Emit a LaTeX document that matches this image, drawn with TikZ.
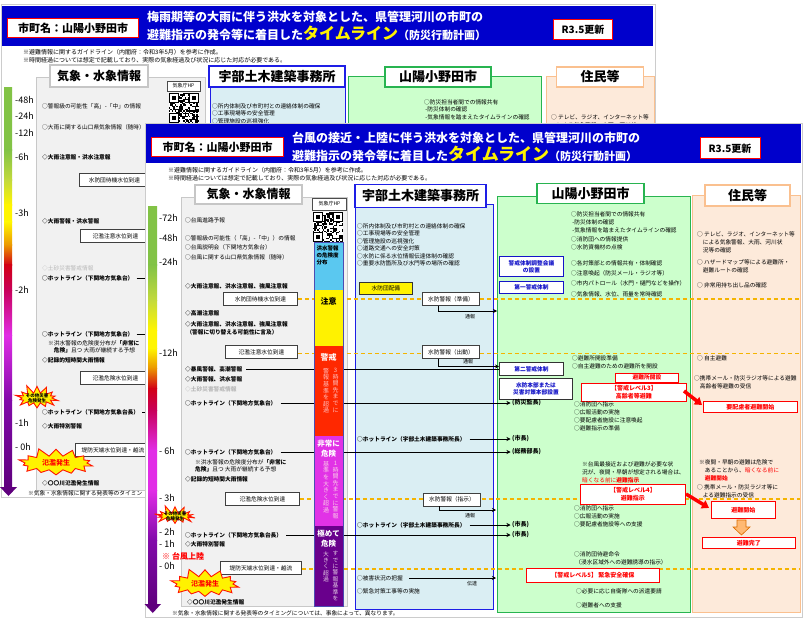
\documentclass[tikz,border=0pt]{standalone}
\usepackage{fontspec}
\setmainfont{Noto Sans CJK JP}
\usetikzlibrary{shapes.symbols,arrows.meta}
\XeTeXlinebreaklocale "ja"
\definecolor{hdrblue}{RGB}{0,0,204}
\definecolor{colgray}{RGB}{241,241,241}
\definecolor{colgrayb}{RGB}{200,200,200}
\definecolor{ubefill}{RGB}{218,238,243}
\definecolor{ubeb}{RGB}{30,30,230}
\definecolor{cityfill}{RGB}{204,255,204}
\definecolor{cityb}{RGB}{40,180,80}
\definecolor{resfill}{RGB}{253,234,218}
\definecolor{resb}{RGB}{250,192,143}
\definecolor{dashor}{RGB}{245,180,0}
\definecolor{barblue}{RGB}{90,200,240}
\definecolor{barred}{RGB}{255,40,0}
\definecolor{barmag}{RGB}{225,50,230}
\definecolor{barpur}{RGB}{105,0,140}
\definecolor{gA}{RGB}{130,195,70}
\definecolor{gB}{RGB}{195,218,60}
\definecolor{gY}{RGB}{255,245,0}
\definecolor{gO}{RGB}{235,150,0}
\definecolor{gR}{RGB}{210,0,20}
\definecolor{gC}{RGB}{200,0,90}
\definecolor{gM}{RGB}{225,45,230}
\definecolor{gP}{RGB}{130,10,170}
\definecolor{gD}{RGB}{95,0,125}
\definecolor{blt}{RGB}{20,20,200}
\newcommand\fsz[2]{\fontsize{#1}{#2}\selectfont}
\newcommand\gseg[6]{\shade[top color=#5,bottom color=#6] (#1,#3) rectangle (#2,#4);}
\newcommand\myqr[2]{%
 \fill[white] (#1,#2) rectangle ++(30,30);
 \foreach \i in {0,...,20}{\foreach \j in {0,...,20}{%
   \pgfmathsetmacro\rr{rnd}%
   \ifdim\rr pt<0.5pt \fill[black] ({#1+\i*1.43},{#2+\j*1.43}) rectangle ++(1.43,1.43);\fi}}
 \foreach \a/\b in {0/0,20/0,0/20}{%
   \fill[black] ({#1+\a},{#2+\b}) rectangle ++(10,10);
   \fill[white] ({#1+\a+1.43},{#2+\b+1.43}) rectangle ++(7.14,7.14);
   \fill[black] ({#1+\a+2.86},{#2+\b+2.86}) rectangle ++(4.28,4.28);}}
\tikzset{
  every node/.style={inner sep=0pt},
  tx/.style={anchor=west, font=\fsz{5.7}{7.6}},
  txb/.style={anchor=west, font=\bfseries\fsz{5.7}{7.6}},
  sm/.style={anchor=north west, align=left},
  nt/.style={anchor=west, font=\fsz{6}{8}},
  tlab/.style={anchor=west, font=\fsz{9}{10}},
  hdr/.style={draw, fill=white, line width=1.6pt, font=\bfseries\fsz{13}{15}, minimum height=20pt},
  wbox/.style={draw=black!75, fill=white, line width=0.9pt, font=\fsz{5.7}{7}, minimum height=13pt},
  rbox/.style={draw=red, fill=white, line width=0.9pt, text=red, font=\bfseries\fsz{6}{7.6}, align=center},
  bluebox/.style={draw=blt, fill=white, line width=0.9pt, text=blt, font=\bfseries\fsz{5.7}{7}, align=center},
  dsh/.style={draw=dashor, dash pattern=on 4pt off 3pt, line width=1.2pt},
  conn/.style={line width=0.9pt},
  arr/.style={line width=0.9pt, -{Stealth[length=4pt,width=4pt]}},
  redarr/.style={red, line width=3.5pt, -{Triangle[length=7pt,width=9pt]}},
  burst/.style={starburst, fill=yellow, draw=red!85!orange, line width=0.9pt, starburst points=14, starburst point height=9pt, random starburst=11},
  vt/.style={anchor=north, align=center, font=\fsz{6}{6.6}},
  ttl/.style={anchor=west, text=white, font=\bfseries\fsz{12}{14}},
  cbox/.style={draw=red, fill=white, line width=1pt, font=\bfseries\fsz{11}{13}},
  lab/.style={anchor=west, font=\bfseries\fsz{6}{7}},
}
\begin{document}
\begin{tikzpicture}[x=1pt,y=-1pt]
\pgfmathsetseed{7}
\useasboundingbox (0,0) rectangle (808,620);
\fill[white] (0,0) rectangle (808,620);
% ================= BACK DOCUMENT =================
\draw[gray!40, fill=white] (1,4) rectangle (655,497);
\fill[hdrblue] (2,6) rectangle (653,46);
\node[cbox, minimum width=131pt, minimum height=19pt, anchor=north west] (bname) at (7,18) {市町名：山陽小野田市};
\node[ttl] (bt1) at (147,17) {梅雨期等の大雨に伴う洪水を対象とした、県管理河川の市町の};
\node[ttl] (bt2) at (147,33) {避難指示の発令等に着目した{\color{yellow}\fsz{16}{16}タイムライン}{\fsz{11}{12}（防災行動計画）}};
\node[cbox, font=\bfseries\fsz{10}{12}, minimum width=59pt, minimum height=20pt] (brv) at (583,30) {R3.5更新};
\node[nt] (bn1) at (23,52) {※避難情報に関するガイドライン（内閣府：令和3年5月）を参考に作成。};
\node[nt] (bn2) at (23,60) {※時間経過については想定で記載しており、実際の気象経過及び状況に応じた対応が必要である。};
% columns
\draw[colgrayb, fill=colgray] (36,77) rectangle (205,490);
\draw[ubeb, fill=ubefill, line width=1pt] (210,86) rectangle (345,495);
\draw[cityb, fill=cityfill, line width=1pt] (348,77) rectangle (541,495);
\draw[resb, fill=resfill, line width=1pt] (546,77) rectangle (654,495);
\node[hdr, draw=gray!45, line width=1.2pt, font=\bfseries\fsz{12}{14}, minimum width=98pt, minimum height=22pt] (bh1) at (99,76) {気象・水象情報};
\node[hdr, draw=ubeb, minimum width=136pt, minimum height=21pt] (bh2) at (277,76.5) {宇部土木建築事務所};
\node[hdr, draw=cityb, minimum width=106pt] (bh3) at (438,77) {山陽小野田市};
\node[hdr, draw=resb, minimum width=87pt] (bh4) at (600,77) {住民等};
\node[draw=black!70, fill=white, line width=0.8pt, font=\fsz{5}{6}, minimum width=33pt, minimum height=10pt] (bhp) at (183.5,86) {気象庁HP};
\myqr{169}{93}
% back gradient bar
\gseg{4}{12}{88}{150.5}{gA}{gA}
\gseg{4}{12}{150}{180.5}{gA}{gB}
\gseg{4}{12}{180}{205.5}{gB}{gY}
\gseg{4}{12}{205}{222.5}{gY}{gY}
\gseg{4}{12}{222}{245.5}{gY}{gO}
\gseg{4}{12}{245}{265.5}{gO}{gR}
\gseg{4}{12}{265}{290.5}{gR}{gC}
\gseg{4}{12}{290}{335.5}{gC}{gM}
\gseg{4}{12}{335}{400.5}{gM}{gP}
\gseg{4}{12}{400}{488}{gP}{gD}
\fill[gD] (0,487) -- (17,487) -- (8.5,496) -- cycle;
\node[tlab] (bl1) at (15,100) {-48h};
\node[tlab] (bl2) at (15,116) {-24h};
\node[tlab] (bl3) at (15,133) {-12h};
\node[tlab] (bl4) at (15,157) {-6h};
\node[tlab] (bl5) at (15,213) {-3h};
\node[tlab] (bl6) at (15,290) {-2h};
\node[tlab] (bl7) at (15,423) {-1h};
\node[tlab] (bl8) at (15,447) {- 0h};
% back texts
\coordinate (bR) at (152,0);
\node[tx] (bk1) at (42,106) {○警報級の可能性「高」-「中」の情報};
\node[tx] (bk2) at (42,127) {○大雨に関する山口県気象情報（随時）};
\node[txb] (bk3) at (42,157) {◇大雨注意報・洪水注意報};
\node[wbox, minimum width=70pt, anchor=north west] (bw1) at (79,173) {水防団待機水位到達};
\node[txb] (bk4) at (42,221) {◇大雨警報・洪水警報};
\node[wbox, minimum width=70pt, anchor=north west] (bw2) at (80,229) {氾濫注意水位到達};
\node[tx, text=gray!55] (bk5) at (42,268) {◇土砂災害警戒情報};
\node[txb] (bk6) at (42,278) {○ホットライン（下関地方気象台）};
\draw[conn] ([xshift=3pt]bk6.east) -- (bk6.east -| bR);
\node[txb] (bk7) at (42,334) {○ホットライン（下関地方気象台）};
\draw[conn] ([xshift=3pt]bk7.east) -- (bk7.east -| bR);
\node[sm, font=\fsz{5.7}{7}] (bk8) at (48,340.6) {※洪水警報の危険度分布が{\bfseries「非常に}\\\quad{\bfseries 危険」}且つ 大雨が継続する予想};
\node[txb] (bk9) at (42,360) {◇記録的短時間大雨情報};
\node[wbox, minimum width=70pt, anchor=north west] (bw3) at (80,371) {氾濫危険水位到達};
\node[txb] (bk10) at (42,412) {○ホットライン（下関地方気象台長）};
\draw[conn] ([xshift=3pt]bk10.east) -- (bk10.east -| bR);
\node[txb] (bk11) at (42,426) {◇大雨特別警報};
\node[wbox, minimum width=75pt, anchor=north west] (bw4) at (75,443) {堤防天端水位到達・越流};
\node[txb] (bk12) at (42,483) {◇〇〇川氾濫発生情報};
\node[anchor=west, font=\fsz{5.7}{7}] (bk13) at (28,493.5) {※気象・水象情報に関する発表等のタイミン};
\node[burst, minimum width=48pt, minimum height=28pt] (bs1) at (37,398) {};
\node[align=center, font=\bfseries\fsz{4.5}{5}] (bs1t) at (bs1.center) {その他災害\\{}危険発生};
\node[burst, minimum width=80pt, minimum height=32pt] (bs2) at (56,463) {};
\node[text=red, font=\bfseries\fsz{7}{8}] (bs2t) at (bs2.center) {氾濫発生};
% back other columns text
\node[sm, font=\fsz{5.7}{7.4}] (bu1) at (212,103.4) {○所内体制及び市町村との連絡体制の確保\\○工事現場等の安全管理\\○管理施設の巡視強化};
\node[sm, font=\fsz{5.7}{7.6}] (bc1) at (424,99.4) {○防災担当者間での情報共有\\\ -防災体制の確認\\\ -気象情報を踏まえたタイムラインの確認};
\node[sm, font=\fsz{5.7}{7.6}] (br1) at (551,114.4) {○ テレビ、ラジオ、インターネット等\\\quad による気象警報、大雨、河川状};
% ================= FRONT DOCUMENT =================
\draw[gray!40, fill=white] (145,123) rectangle (802,617);
\fill[hdrblue] (146,124) rectangle (801,163);
\node[cbox, minimum width=132pt, minimum height=19pt, anchor=north west] (fname) at (151,137) {市町名：山陽小野田市};
\node[ttl] (ft1) at (292,138) {台風の接近・上陸に伴う洪水を対象とした、県管理河川の市町の};
\node[ttl] (ft2) at (292,154) {避難指示の発令等に着目した{\color{yellow}\fsz{17}{17}タイムライン}{\fsz{11}{12}（防災行動計画）}};
\node[cbox, font=\bfseries\fsz{10}{12}, minimum width=60pt, minimum height=21pt] (frv) at (730,148.5) {R3.5更新};
\node[nt] (fn1) at (168,170) {※避難情報に関するガイドライン（内閣府：令和3年5月）を参考に作成。};
\node[nt] (fn2) at (168,178) {※時間経過については想定で記載しており、実際の気象経過及び状況に応じた対応が必要である。};
% columns
\draw[colgrayb, fill=colgray] (181,197) rectangle (347,606);
\draw[ubeb, fill=ubefill, line width=1pt] (355,205) rectangle (493,609);
\draw[cityb, fill=cityfill, line width=1pt] (497,197) rectangle (690,612);
\draw[resb, fill=resfill, line width=1pt] (692,196) rectangle (800,612);
% gradient bar
\gseg{148}{157}{207}{265.5}{gA}{gA}
\gseg{148}{157}{265}{300.5}{gA}{gB}
\gseg{148}{157}{300}{330.5}{gB}{gY}
\gseg{148}{157}{330}{348.5}{gY}{gY}
\gseg{148}{157}{348}{368.5}{gY}{gO}
\gseg{148}{157}{368}{388.5}{gO}{gR}
\gseg{148}{157}{388}{410.5}{gR}{gC}
\gseg{148}{157}{410}{450.5}{gC}{gM}
\gseg{148}{157}{450}{490.5}{gM}{gM}
\gseg{148}{157}{490}{540.5}{gM}{gP}
\gseg{148}{157}{540}{605}{gP}{gD}
\fill[gD] (144.5,604) -- (161,604) -- (152.75,613) -- cycle;
\node[tlab] (fl1) at (159,218) {-72h};
\node[tlab] (fl2) at (159,238) {-48h};
\node[tlab] (fl3) at (159,262) {-24h};
\node[tlab] (fl4) at (159,353) {-12h};
\node[tlab] (fl5) at (159,451) {- 6h};
\node[tlab] (fl6) at (159,498) {- 3h};
\node[tlab] (fl7) at (159,532) {- 2h};
\node[tlab] (fl8) at (159,544) {- 1h};
\node[tlab] (fl9) at (159,566) {- 0h};
% column headers
\node[hdr, draw=gray!45, line width=1.2pt, font=\bfseries\fsz{12}{14}, minimum width=107pt, minimum height=19pt] (fh1) at (248.5,194.5) {気象・水象情報};
\node[hdr, draw=ubeb, minimum width=131pt, minimum height=23pt] (fh2) at (420.5,196) {宇部土木建築事務所};
\node[hdr, draw=cityb, minimum width=107pt] (fh3) at (590.5,193.5) {山陽小野田市};
\node[hdr, draw=resb, minimum width=85pt, minimum height=21pt] (fh4) at (747.5,195.5) {住民等};
% ---- 気象 texts
\node[tx] (fk1) at (185,220) {○台風進路予報};
\node[sm, font=\fsz{5.7}{9.5}] (fk2) at (185,235.4) {○警報級の可能性（「高」-「中」）の情報\\○台風説明会（下関地方気象台）\\○台風に関する山口県気象情報（随時）};
\node[txb] (fk3) at (185,286) {◇大雨注意報、洪水注意報、強風注意報};
\node[wbox, minimum width=74pt, anchor=north west] (fw1) at (223,292) {水防団待機水位到達};
\node[txb] (fk4) at (185,313) {◇高潮注意報};
\node[sm, font=\bfseries\fsz{5.7}{8}] (fk5) at (185,321.4) {◇大雨注意報、洪水注意報、強風注意報\\\ （警報に切り替える可能性に言及）};
\node[wbox, minimum width=72pt, anchor=north west] (fw2) at (225,345) {氾濫注意水位到達};
\node[txb] (fk6) at (185,369) {◇暴風警報、高潮警報};
\node[txb] (fk7) at (185,379) {◇大雨警報、洪水警報};
\node[tx, text=gray!55, font=\bfseries\fsz{5.7}{7}] (fk8) at (185,389) {◇土砂災害警戒情報};
\node[txb] (fk9) at (185,403) {○ホットライン（下関地方気象台）};
\node[txb] (fk10) at (185,452) {○ホットライン（下関地方気象台）};
\node[sm, font=\fsz{5.7}{7.4}] (fk11) at (195,459.4) {※洪水警報の危険度分布が{\bfseries「非常に}\\{\bfseries 危険」}且つ 大雨が継続する予想};
\node[txb] (fk12) at (185,479) {◇記録的短時間大雨情報};
\node[wbox, minimum width=74pt, anchor=north west] (fw3) at (225,492) {氾濫危険水位到達};
\node[txb] (fk13) at (185,535) {○ホットライン（下関地方気象台長）};
\node[txb] (fk14) at (185,544) {◇大雨特別警報};
\node[wbox, minimum width=81pt, anchor=north west] (fw4) at (220,561) {堤防天端水位到達・越流};
\node[txb] (fk15) at (187,602) {◇〇〇川氾濫発生情報};
\node[anchor=west, font=\fsz{5.7}{7}] (fk16) at (172,613) {※気象・水象情報に関する発表等のタイミングについては、事象によって、異なります。};
\node[anchor=west, text=red, font=\bfseries\fsz{8}{9}] (fk17) at (162,556) {※ 台風上陸};
% ---- city left boxes (needed as targets)
\node[bluebox, minimum width=64pt, minimum height=20pt, anchor=north west] (c0) at (499,256) {警戒体制調整会議\\{}の設置};
\node[bluebox, minimum width=64pt, minimum height=12pt, anchor=north west] (c1) at (499,281) {第一警戒体制};
\node[bluebox, draw=black!80, minimum width=64pt, minimum height=13pt, anchor=north west] (c2) at (499,362) {第二警戒体制};
\node[bluebox, draw=black!80, minimum width=73pt, minimum height=21pt, anchor=north west] (c3) at (499,377.5) {水防本部または\\{}災害対策本部設置};
\node[lab] (d1) at (512,403) {(防災監長)};
\node[lab] (d2) at (512,439) {(市長)};
\node[lab] (d3) at (512,452) {(総務部長)};
\node[lab] (d4) at (512,525) {(市長)};
\node[lab] (d5) at (512,535) {(市長)};
% ---- dashed lines
\coordinate (RE) at (800,0);
\draw[dsh] (fw1.east) -- (fw1.east -| RE);
\draw[dsh] ([yshift=-1.5pt]fw2.east) -- ([yshift=-1.5pt]fw2.east -| RE);
\draw[dsh] (fw3.east) -- (fw3.east -| RE);
\draw[dsh] ([yshift=-1pt]fw4.east) -- ([yshift=-1pt]fw4.east -| RE);
% ---- long connectors
\draw[conn] ([xshift=4pt]fk6.east) -- (fk6.east -| c2.west);
\draw[arr] ([xshift=4pt]fk9.east) -- ([xshift=-1.5pt]d1.west);
\draw[arr] ([xshift=4pt]fk10.east) -- ([xshift=-1.5pt]d3.west);
\draw[arr] ([xshift=4pt]fk13.east) -- ([xshift=-1.5pt]d5.west);
% ---- color bar in 気象 column
\myqr{313}{212}
\node[draw=black!70, fill=white, line width=0.8pt, font=\fsz{5}{6}, minimum width=34pt, minimum height=12pt] (fhp) at (329.5,204) {気象庁HP};
\fill[barblue] (314,242) rectangle (343,290);
\fill[yellow] (314,290) rectangle (343,346);
\fill[barred] (314,346) rectangle (343,436);
\fill[barmag] (314,436) rectangle (343,526);
\fill[barpur] (314,526) rectangle (343,606);
\draw[gray!60!blue, line width=0.6pt] (314,242) rectangle (343,606);
\node[sm, font=\bfseries\fsz{5.5}{7}] (kb1) at (316.5,245.5) {洪水警報\\{}の危険度\\{}分布};
\node[font=\bfseries\fsz{8}{9}] (kb2) at (328.5,301) {注意};
\node[text=white, font=\bfseries\fsz{8}{9}] (kb3) at (328.5,357) {警戒};
\node[vt, text=red!25] (kb4) at (335.5,368) {3\\{}時\\{}間\\{}先\\{}ま\\{}で\\{}に};
\node[vt, text=red!25] (kb5) at (326,368) {警\\{}報\\{}基\\{}準\\{}を\\{}超\\{}過};
\node[text=white, align=center, font=\bfseries\fsz{7.5}{10}] (kb6) at (328.5,449) {非常に\\{}危険};
\node[vt, text=magenta!20] (kb7) at (335.5,461) {1\\{}時\\{}間\\{}先\\{}ま\\{}で\\{}に\\{}警\\{}報};
\node[vt, text=magenta!20] (kb8) at (326,461) {基\\{}準\\{}を\\{}大\\{}き\\{}く\\{}超\\{}過};
\node[text=white, align=center, font=\bfseries\fsz{7.5}{10}] (kb9) at (328.5,539) {極めて\\{}危険};
\node[vt, text=violet!20, font=\fsz{5.8}{6.4}] (kb10) at (335.5,551) {す\\{}で\\{}に\\{}警\\{}報\\{}基\\{}準\\{}を};
\node[vt, text=violet!20, font=\fsz{5.8}{6.4}] (kb11) at (326,551) {大\\{}き\\{}く\\{}超\\{}過};
% ---- 宇部 column
\node[sm, font=\fsz{5.7}{7.4}] (fu1) at (357,223.4) {○所内体制及び市町村との連絡体制の確保\\○工事現場等の安全管理\\○管理施設の巡視強化\\○道路交通への安全対策\\○水防に係る水位情報伝達体制の確認\\○重要水防箇所及び水門等の場所の確認};
\node[draw=black!80, fill=yellow, line width=0.8pt, font=\fsz{5.7}{7}, minimum width=53pt, minimum height=12pt, anchor=north west] (fu2) at (359,282) {水防団配備};
\node[wbox, minimum width=57pt, anchor=north west] (ub1) at (422,292) {水防警報（準備）};
\node[wbox, minimum width=57pt, anchor=north west] (ub2) at (422,345) {水防警報（出動）};
\node[wbox, minimum width=57pt, anchor=north west] (ub3) at (423,492.5) {水防警報（指示）};
\coordinate (e1) at (497,311);
\coordinate (e3) at (496,510);
\coordinate (e4) at (496,578);
\draw[arr] ([xshift=-13pt]ub1.south) |- (e1);
\node[font=\fsz{5}{6}] (tb1) at (470,317) {通報};
\draw[arr] ([xshift=-13pt]ub2.south) |- ([yshift=2.5pt]c2.west);
\node[font=\fsz{5}{6}] (tb2) at (468,361.5) {通報};
\draw[arr] ([xshift=-13pt]ub3.south) |- (e3);
\node[font=\fsz{5}{6}] (tb3) at (470,515.5) {通報};
\node[txb] (fu3) at (357,439) {○ホットライン（宇部土木建築事務所長）};
\draw[arr] ([xshift=4pt]fu3.east) -- ([xshift=-1.5pt]d2.west);
\node[txb] (fu4) at (357,525) {○ホットライン（宇部土木建築事務所長）};
\draw[arr] ([xshift=4pt]fu4.east) -- ([xshift=-1.5pt]d4.west);
\node[tx] (fu5) at (357,578) {○被害状況の把握};
\draw[arr] ([xshift=6pt]fu5.east) -- (e4);
\node[font=\fsz{5}{6}] (tb4) at (472,583.5) {伝達};
\node[tx] (fu6) at (357,591) {○緊急対策工事等の実施};
% ---- city column texts
\node[sm, font=\fsz{5.7}{8}] (fc1) at (571,211.4) {○防災担当者間での情報共有\\\ -防災体制の確認\\\ -気象情報を踏まえたタイムラインの確認};
\node[sm, font=\fsz{5.7}{8}] (fc2) at (571,236.4) {○消防団への情報提供\\○水防資機材の点検};
\node[sm, font=\fsz{5.7}{10.2}] (fc3) at (571,260.4) {○各対策部との情報共有・体制確認\\○注意喚起（防災メール・ラジオ等）\\○市内パトロール（水門・樋門などを操作）\\○気象情報、水位、雨量を常時確認};
\node[sm, font=\fsz{5.7}{8}] (fc4) at (572,355.4) {○避難所開設準備\\○自主避難のための避難所を開設};
\node[rbox, minimum width=63pt, minimum height=9pt, font=\bfseries\fsz{5.7}{7}, anchor=north west] (fc5) at (615,372.5) {避難所開設};
\node[rbox, minimum width=105pt, minimum height=18pt, anchor=north west] (fc6) at (581,382.5) {【警戒レベル3】\\{}高齢者等避難};
\node[sm, font=\fsz{5.7}{8}] (fc7) at (574,401.4) {○消防団へ指示\\○広報活動の実施\\○要配慮者施設に注意喚起\\○避難指示の準備};
\node[sm, font=\fsz{5.7}{8.2}] (fc8) at (582,461.4) {※台風最接近および避難が必要な状\\{}況が、夜間・早朝が想定される場合は、\\{\color{red}暗くなる前に\bfseries 避難指示}};
\node[rbox, minimum width=105pt, minimum height=20pt, anchor=north west] (fc9) at (580,484) {【警戒レベル4】\\{}避難指示};
\node[sm, font=\fsz{5.7}{8}] (fc10) at (574,505.4) {○消防団へ指示\\○広報活動の実施\\○要配慮者施設等への支援};
\node[sm, font=\fsz{5.7}{8}] (fc11) at (574,551.4) {○消防団待避命令\\\ （浸水区域外への避難誘導の指示）};
\node[rbox, minimum width=133pt, minimum height=14pt, anchor=north west] (fc12) at (526,568) {【警戒レベル5】\ 緊急安全確保};
\node[tx] (fc13) at (576,591) {○必要に応じ自衛隊への派遣要請};
\node[tx] (fc14) at (576,605) {○避難者への支援};
% ---- 住民 column
\node[sm, font=\fsz{5.7}{8}] (fr1) at (697,231.4) {○ テレビ、ラジオ、インターネット等\\\quad による気象警報、大雨、河川状\\\quad 況等の確認};
\node[sm, font=\fsz{5.7}{8}] (fr2) at (697,259.4) {○ ハザードマップ等による避難所・\\\quad 避難ルートの確認};
\node[tx] (fr3) at (697,285) {○ 非常用持ち出し品の確認};
\node[tx] (fr4) at (697,358) {○ 自主避難};
\node[sm, font=\fsz{5.7}{8}] (fr5) at (694,375.4) {○携帯メール・防災ラジオ等による避難\\\quad 高齢者等避難の受信};
\node[rbox, minimum width=94pt, minimum height=11pt, anchor=north west] (fr6) at (703,401) {要配慮者避難開始};
\node[sm, font=\fsz{5.7}{8}] (fr7) at (699,459.4) {※夜間・早朝の避難は危険で\\\quad あることから、{\color{red}暗くなる前に}\\\quad {\color{red}\bfseries 避難開始}};
\node[sm, font=\fsz{5.7}{8.4}] (fr8) at (697,484.4) {○ 携帯メール・防災ラジオ等に\\\quad よる避難指示の受信};
\node[rbox, minimum width=64pt, minimum height=17pt, anchor=north west] (fr9) at (711,501) {避難開始};
\node[rbox, minimum width=93pt, minimum height=11pt, anchor=north west] (fr10) at (702,537) {避難完了};
\filldraw[fill=orange!55, draw=orange!85!black, line width=0.6pt] (737,520) -- (746,520) -- (746,527) -- (750,527) -- (741.5,535) -- (733,527) -- (737,527) -- cycle;
\coordinate (ra1) at (684,391);
\coordinate (ra2) at (686,494);
\draw[redarr] (ra1) -- ([xshift=-1pt,yshift=2pt]fr6.west);
\draw[redarr] (ra2) -- ([xshift=-2pt,yshift=2pt]fr9.west);
% ---- stars front
\node[burst, minimum width=46pt, minimum height=23pt] (fs1) at (175,516) {};
\node[align=center, font=\bfseries\fsz{4.5}{5}] (fs1t) at (fs1.center) {その他災害\\{}危険発生};
\node[burst, minimum width=74pt, minimum height=33pt] (fs2) at (205,584) {};
\node[text=red, font=\bfseries\fsz{7}{8}] (fs2t) at (fs2.center) {氾濫発生};
\end{tikzpicture}
\end{document}
